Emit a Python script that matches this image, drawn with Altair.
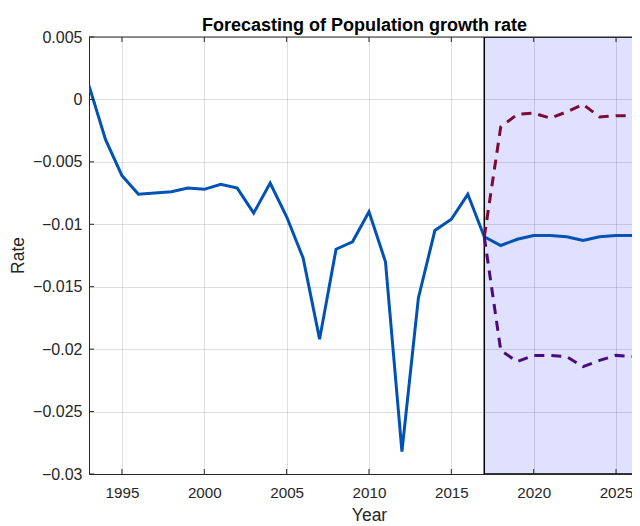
import altair as alt
import pandas as pd

# ---- data ----
hist_years = list(range(1993, 2018))
hist_rate = [0.0011, -0.0032, -0.0061, -0.0076, -0.0075, -0.0074, -0.0071, -0.0072,
             -0.0068, -0.0071, -0.0091, -0.0067, -0.0094, -0.0127, -0.0192, -0.0120,
             -0.0114, -0.0090, -0.0130, -0.0282, -0.0159, -0.0105, -0.0096, -0.0076,
             -0.0110]

fc_years = list(range(2017, 2028))
fc_mean = [-0.0110, -0.0117, -0.0112, -0.0109, -0.0109, -0.0110, -0.0113, -0.0110,
           -0.0109, -0.0109, -0.0109]
fc_upper = [-0.0110, -0.0022, -0.0012, -0.0011, -0.0015, -0.0010, -0.0004, -0.0014,
            -0.0013, -0.0013, -0.0013]
fc_lower = [-0.0110, -0.0201, -0.0210, -0.0205, -0.0205, -0.0206, -0.0214, -0.0209,
            -0.0205, -0.0206, -0.0206]

x_ticks = [1995, 2000, 2005, 2010, 2015, 2020, 2025]
y_ticks = [-0.03, -0.025, -0.02, -0.015, -0.01, -0.005, 0, 0.005]
band = {"x": [2017], "x2": [2027], "y": [-0.03], "y2": [0.005]}

W, H = 543, 437
FONT = "Liberation Sans"
INK = "#262626"

xs = alt.Scale(domain=[1993, 1993 + W / 16.47], nice=False, zero=False)
ys = alt.Scale(domain=[-0.03, 0.005], nice=False, zero=False)

ax_x = alt.Axis(values=x_ticks, format="d", grid=True, gridColor=INK, gridOpacity=0.15,
                ticks=False, domainColor=INK, domainWidth=1, labelFont=FONT,
                labelFontSize=15.2, labelColor=INK, labelPadding=11, labelFlush=False,
                title="Year", titleFont=FONT, titleFontSize=17.5, titleFontWeight="normal",
                titleColor=INK, titleX=280, titleY=46, titleBaseline="alphabetic",
                titleAlign="center")
ax_y = alt.Axis(values=y_ticks, format="~g", grid=True, gridColor=INK, gridOpacity=0.15,
                ticks=False, domainColor=INK, domainWidth=1, labelFont=FONT,
                labelFontSize=16, labelColor=INK, labelPadding=7, labelFlush=False,
                title="Rate", titleFont=FONT, titleFontSize=17.5, titleFontWeight="normal",
                titleColor=INK, titleX=-71, titleY=218, titleAngle=270,
                titleBaseline="middle", titleAlign="center")

X = lambda f: alt.X(f, type="quantitative", scale=xs, axis=ax_x)
Y = lambda f: alt.Y(f, type="quantitative", scale=ys, axis=ax_y)

hist_df = pd.DataFrame({"year": hist_years, "rate": hist_rate})
fc_df = pd.DataFrame({"year": fc_years, "mean": fc_mean, "upper": fc_upper, "lower": fc_lower})
band_df = pd.DataFrame(band)
xt_df = pd.DataFrame({"year": x_ticks})
yt_df = pd.DataFrame({"rate": y_ticks})

rect = alt.Chart(band_df).mark_rect(fill="#0000ff", fillOpacity=0.12, stroke="black",
                                    strokeWidth=1.5, clip=True).encode(
    x=X("x"), x2="x2", y=Y("y"), y2="y2")

hist = alt.Chart(hist_df).mark_line(color="#0052b5", strokeWidth=3, clip=True).encode(
    x=X("year"), y=Y("rate"))
mean = alt.Chart(fc_df).mark_line(color="#0052b5", strokeWidth=3, clip=True).encode(
    x=X("year"), y=Y("mean"))
upper = alt.Chart(fc_df).mark_line(color="#7b0a35", strokeWidth=3, strokeDash=[10, 7],
                                   clip=True).encode(x=X("year"), y=Y("upper"))
lower = alt.Chart(fc_df).mark_line(color="#4a0c7a", strokeWidth=3, strokeDash=[10, 7],
                                   clip=True).encode(x=X("year"), y=Y("lower"))

top_line = alt.Chart(band_df).mark_rule(color=INK, strokeWidth=1).encode(
    x=alt.value(0), x2=alt.value(W), y=alt.value(0))
xt_bottom = alt.Chart(xt_df).mark_rule(color=INK, strokeWidth=1).encode(
    x=X("year"), y=alt.value(H), y2=alt.value(H - 5))
xt_top = alt.Chart(xt_df).mark_rule(color=INK, strokeWidth=1).encode(
    x=X("year"), y=alt.value(0), y2=alt.value(5))
yt_left = alt.Chart(yt_df).mark_rule(color=INK, strokeWidth=1).encode(
    y=Y("rate"), x=alt.value(0), x2=alt.value(5))

chart = alt.layer(rect, hist, mean, upper, lower, top_line, xt_bottom, xt_top, yt_left).properties(
    width=W, height=H,
    title=alt.Title("Forecasting of Population growth rate", font=FONT, fontSize=18,
                    fontWeight="bold", color="black", anchor="middle", frame="group",
                    offset=7, dy=27, dx=4, baseline="alphabetic"),
    autosize=alt.AutoSizeParams(type="none"),
    padding={"left": 81, "top": 29, "right": 0, "bottom": 52},
    background="white",
).configure_view(stroke=None)

chart.save("out.html", embed_options={"renderer": "svg", "actions": False})
